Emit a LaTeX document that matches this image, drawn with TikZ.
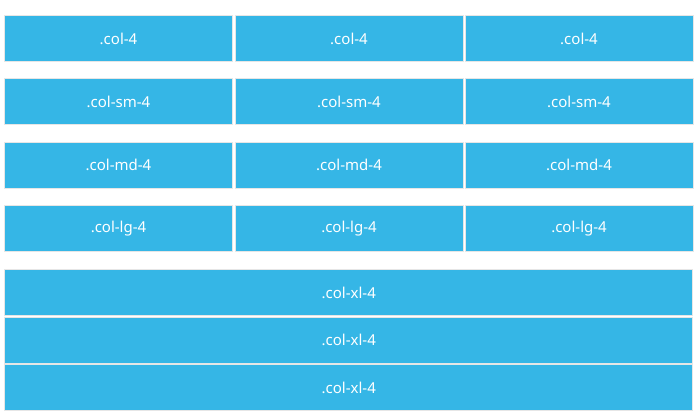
\documentclass[tikz,border=0pt]{standalone}
\usepackage{fontspec}
\setmainfont{Noto Sans}
\definecolor{cellblue}{HTML}{35B6E6}
\definecolor{cellborder}{HTML}{E6E6E6}
\begin{document}
\begin{tikzpicture}[x=1pt,y=-1pt,
  cell/.style={fill=cellblue,draw=cellborder,line width=1pt,inner sep=0pt,
    minimum height=46pt,text=white,font=\fontsize{15}{18}\selectfont},
  third/.style={cell,minimum width=228pt},
  full/.style={cell,minimum width=688pt}]
\useasboundingbox (0,0) rectangle (699,416);
\fill[white] (0,0) rectangle (699,416);
\foreach \r/\lab/\y in {1/col-4/38.5, 2/col-sm-4/101.5, 3/col-md-4/165, 4/col-lg-4/228.5}{
  \node[third] (r\r c1) at (118.5,\y) {.\lab};
  \node[third] (r\r c2) at (349,\y) {.\lab};
  \node[third] (r\r c3) at (579,\y) {.\lab};
}
\node[full] (xl1) at (348.75,292.5) {.col-xl-4};
\node[full] (xl2) at (348.75,340) {.col-xl-4};
\node[full] (xl3) at (348.75,387.5) {.col-xl-4};
\end{tikzpicture}
\end{document}
